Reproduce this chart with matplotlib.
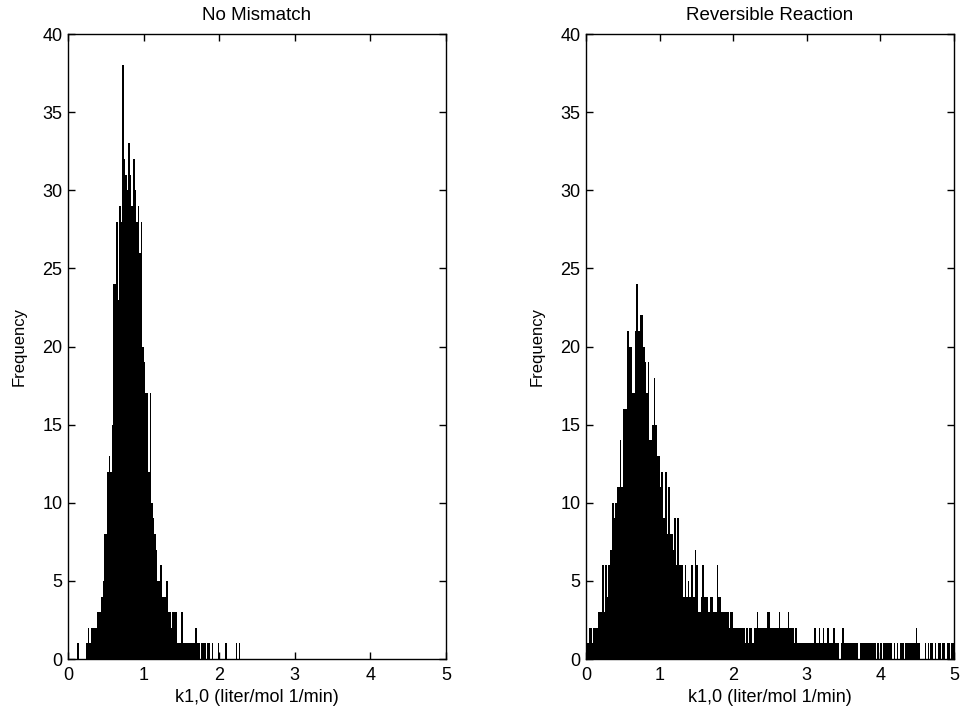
import matplotlib
matplotlib.use('Agg')
import matplotlib.pyplot as plt
import numpy as np

plt.rcParams['font.family'] = ['Liberation Sans', 'DejaVu Sans']

BIN_W = 0.02

# No Mismatch: counts per 0.02-wide bin starting at 0.10
left_start = 0.10
left_counts = [
    0, 1, 0, 0, 0, 0, 0, 1, 2, 1,
    2, 2, 2, 2, 3, 3, 3, 4, 5, 8,
    8, 12, 13, 12, 15, 24, 24, 28, 23, 29,
    28, 38, 32, 31, 30, 33, 31, 29, 32, 30,
    28, 29, 26, 28, 20, 19, 17, 17, 12, 17,
    10, 9, 8, 7, 5, 5, 6, 4, 4, 4,
    5, 3, 3, 2, 3, 3, 3, 1, 1, 1,
    3, 1, 1, 1, 1, 1, 1, 1, 1, 2,
    1, 1, 0, 1, 1, 1, 0, 1, 1, 0,
    1, 0, 0, 0, 1, 0, 0, 0, 0, 1,
    0, 0, 0, 0, 0, 0, 1, 0, 1, 0,
]

# Reversible Reaction: counts per 0.02-wide bin starting at 0.00
right_start = 0.0
right_counts = [
    1, 1, 2, 2, 1, 2, 2, 2, 3, 3,
    3, 6, 3, 6, 4, 6, 7, 7, 10, 9,
    10, 11, 11, 14, 11, 16, 16, 16, 21, 20,
    20, 17, 17, 21, 24, 21, 21, 22, 22, 20,
    19, 17, 19, 14, 14, 15, 18, 15, 13, 13,
    11, 12, 9, 9, 12, 8, 11, 8, 8, 7,
    9, 6, 9, 6, 6, 6, 4, 6, 4, 5,
    4, 6, 6, 4, 7, 6, 3, 3, 4, 6,
    4, 4, 4, 3, 4, 4, 3, 3, 3, 6,
    4, 4, 3, 3, 3, 3, 3, 2, 3, 3,
    2, 2, 2, 2, 2, 2, 2, 2, 1, 2,
    1, 2, 2, 1, 2, 2, 3, 2, 2, 2,
    2, 2, 2, 3, 3, 2, 2, 2, 2, 2,
    2, 3, 2, 2, 2, 2, 2, 3, 2, 2,
    2, 1, 2, 1, 1, 1, 1, 1, 1, 1,
    1, 1, 1, 1, 1, 2, 1, 1, 2, 1,
    1, 2, 1, 1, 2, 1, 1, 1, 2, 1,
    1, 1, 0, 1, 2, 1, 1, 1, 1, 1,
    1, 1, 1, 1, 1, 0, 1, 1, 1, 1,
    1, 1, 1, 1, 1, 1, 1, 0, 1, 0,
    1, 0, 1, 1, 1, 1, 1, 1, 0, 1,
    0, 1, 0, 1, 1, 1, 0, 1, 1, 1,
    1, 1, 1, 1, 2, 1, 1, 0, 0, 0,
    1, 0, 1, 0, 1, 1, 0, 1, 0, 1,
    1, 0, 1, 1, 0, 1, 1, 0, 1, 1,
]

titles = ['No Mismatch', 'Reversible Reaction']
x_label = 'k1,0 (liter/mol 1/min)'
y_label = 'Frequency'
x_ticks = [0, 1, 2, 3, 4, 5]
y_ticks = [0, 5, 10, 15, 20, 25, 30, 35, 40]


def draw_hist(ax, start, counts, title):
    lefts = start + BIN_W * np.arange(len(counts))
    ax.bar(lefts, counts, width=BIN_W, align='edge', color='black',
           linewidth=0)
    ax.set_xlim(0, 5)
    ax.set_ylim(0, 40)
    ax.set_xticks(x_ticks)
    ax.set_yticks(y_ticks)
    ax.tick_params(direction='in', top=True, right=True, length=5,
                   width=1, labelsize=13)
    ax.tick_params(axis='x', pad=6)
    ax.tick_params(axis='y', pad=4)
    ax.set_title(title, fontsize=13.5, pad=10)
    ax.set_xlabel(x_label, fontsize=13, labelpad=3)
    ax.set_ylabel(y_label, fontsize=12, labelpad=11)
    for sp in ax.spines.values():
        sp.set_linewidth(1)


fig = plt.figure(figsize=(9.63, 7.13), dpi=100)
ax1 = fig.add_axes([0.0706, 0.0757, 0.3925, 0.8766])
ax2 = fig.add_axes([0.6085, 0.0757, 0.3822, 0.8766])

draw_hist(ax1, left_start, left_counts, titles[0])
draw_hist(ax2, right_start, right_counts, titles[1])

fig.savefig('out.png', dpi=100)
plt.close(fig)
